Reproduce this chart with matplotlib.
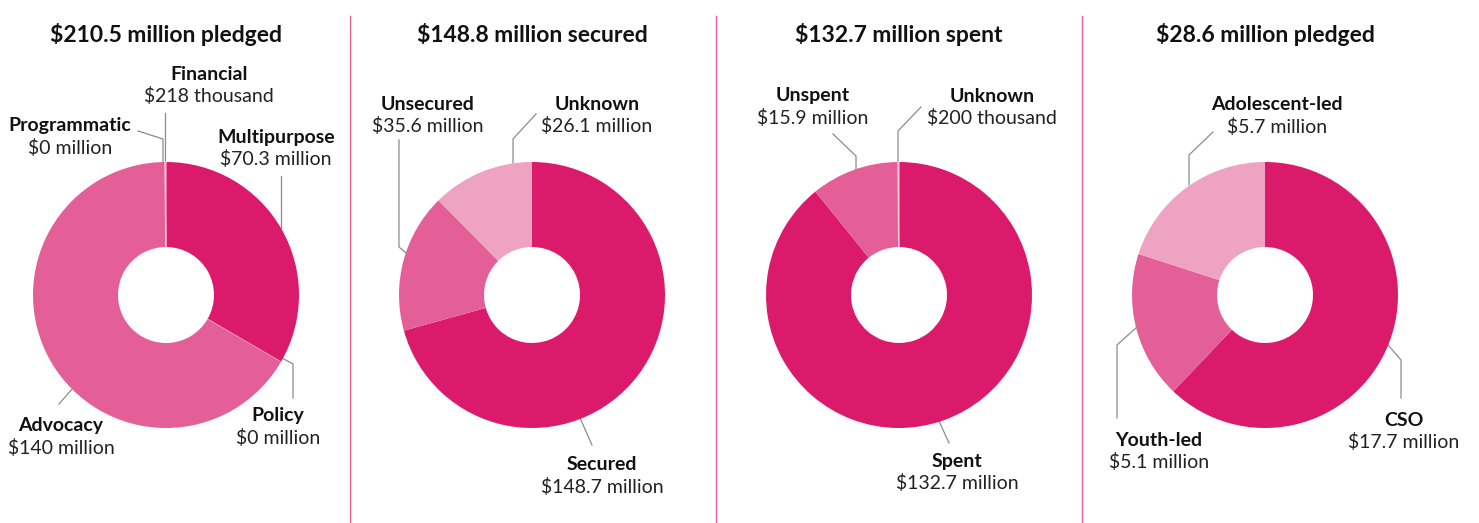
import matplotlib.pyplot as plt

plt.rcParams['font.family'] = ['Lato', 'DejaVu Sans']

W, H = 1479, 523

DARK = '#dc1a6c'
MID = '#e45f97'
LIGHT = '#efa3c3'

# panel titles
titles = ['\\$210.5 million pledged', '\\$148.8 million secured',
          '\\$132.7 million spent', '\\$28.6 million pledged']

# slices, clockwise from 12 o'clock
names1 = ['Multipurpose', 'Policy', 'Advocacy', 'Programmatic', 'Financial']
values1 = [70.3, 0.0, 140.0, 0.0, 0.218]
amounts1 = ['\\$70.3 million', '\\$0 million', '\\$140 million', '\\$0 million', '\\$218 thousand']
colors1 = [DARK, MID, MID, MID, MID]

names2 = ['Secured', 'Unsecured', 'Unknown']
values2 = [148.7, 35.6, 26.1]
amounts2 = ['\\$148.7 million', '\\$35.6 million', '\\$26.1 million']
colors2 = [DARK, MID, LIGHT]

names3 = ['Spent', 'Unspent', 'Unknown']
values3 = [132.7, 15.9, 0.2]
amounts3 = ['\\$132.7 million', '\\$15.9 million', '\\$200 thousand']
colors3 = [DARK, MID, MID]

names4 = ['CSO', 'Youth-led', 'Adolescent-led']
values4 = [17.7, 5.1, 5.7]
amounts4 = ['\\$17.7 million', '\\$5.1 million', '\\$5.7 million']
colors4 = [DARK, MID, LIGHT]

panels = [
    (names1, values1, amounts1, colors1),
    (names2, values2, amounts2, colors2),
    (names3, values3, amounts3, colors3),
    (names4, values4, amounts4, colors4),
]

centers_x = [166, 532, 899, 1265]
center_y = 295
R_OUT, R_IN = 133, 48

# label anchor (x, y of bold name) and leader polyline per slice
label_layout = [
    {'Multipurpose': ((276, 137), [(281, 176), (281, 228)]),
     'Policy': ((278, 416), [(282, 358), (293, 364), (293, 398)]),
     'Advocacy': ((61, 426), [(73, 388), (59, 404)]),
     'Programmatic': ((70, 126), [(138, 131), (163, 139), (163, 162)]),
     'Financial': ((209, 74), [(165, 113), (165, 162)])},
    {'Secured': ((602, 465), [(580, 418), (592, 445)]),
     'Unsecured': ((428, 104), [(399, 140), (399, 247), (406, 253)]),
     'Unknown': ((597, 104), [(536, 114), (513, 139), (513, 163)])},
    {'Spent': ((957, 461), [(939, 421), (949, 443)]),
     'Unspent': ((813, 96), [(833, 134), (856, 156), (856, 170)]),
     'Unknown': ((992, 96), [(921, 107), (898, 131), (898, 162)])},
    {'CSO': ((1404, 420), [(1388, 345), (1401, 360), (1401, 398)]),
     'Youth-led': ((1159, 440), [(1137, 327), (1117, 345), (1117, 418)]),
     'Adolescent-led': ((1277, 105), [(1213, 132), (1189, 155), (1189, 185)])},
]

fig = plt.figure(figsize=(W / 100, H / 100), dpi=100)

# overlay in pixel coordinates for titles, labels and leader lines
over = fig.add_axes([0, 0, 1, 1])
over.set_xlim(0, W)
over.set_ylim(H, 0)
over.axis('off')

for i, (names, values, amounts, colors) in enumerate(panels):
    cx = centers_x[i]
    ax = fig.add_axes([(cx - R_OUT) / W, (H - center_y - R_OUT) / H,
                       2 * R_OUT / W, 2 * R_OUT / H])
    wedges, _ = ax.pie(values, colors=colors, startangle=90, counterclock=False,
                       radius=1, wedgeprops=dict(width=1 - R_IN / R_OUT, linewidth=0))
    for w, v in zip(wedges, values):
        if v < 0.5:
            w.set_edgecolor('#f4c4d8')
            w.set_linewidth(0.8)
    ax.set_xlim(-1, 1)
    ax.set_ylim(-1, 1)
    ax.axis('off')

    over.text(cx, 35, titles[i], ha='center', va='center', fontsize=16.5,
              fontweight='bold', color='#111111')

    for name, amount in zip(names, amounts):
        (lx, ly), pts = label_layout[i][name]
        over.text(lx, ly, name, ha='center', va='center', fontsize=14,
                  fontweight='bold', color='#111111')
        over.text(lx, ly + 22, amount, ha='center', va='center', fontsize=14,
                  color='#222222')
        xs, ys = zip(*pts)
        over.plot(xs, ys, color='#8c8c8c', linewidth=0.9, zorder=5)

# pink dividers between panels
for x in [350, 716, 1082]:
    over.plot([x, x], [16, H], color='#e8609c', linewidth=1)

fig.savefig('out.png', dpi=100, facecolor='white')
